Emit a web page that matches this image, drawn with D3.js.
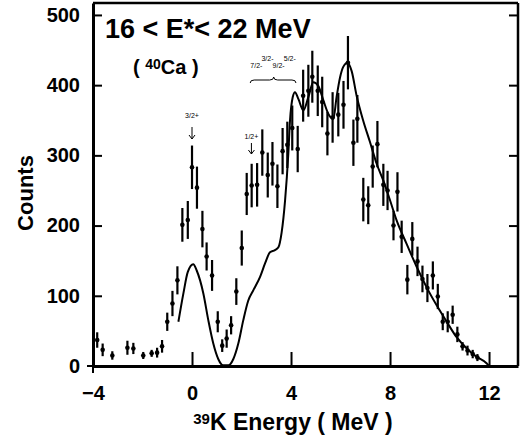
<!DOCTYPE html>
<html>
<head>
<meta charset="utf-8">
<script src="https://cdn.jsdelivr.net/npm/d3@7"></script>
<style>
  body { margin: 0; background: #fff; }
  svg { display: block; }
  text { font-family: "Liberation Sans", Arial, Helvetica, sans-serif; fill: #000; }
</style>
</head>
<body>
<div id="chart"></div>
<script>
var energy = [-3.83, -3.61, -3.22, -2.61, -2.37, -1.97, -1.63, -1.41, -1.21, -1.0,
  -0.79, -0.59, -0.39, -0.17, 0.0, 0.2, 0.42, 0.59, 0.81, 1.04,
  1.22, 1.40, 1.58, 1.79, 2.01, 2.21, 2.41, 2.63, 2.84, 3.06,
  3.25, 3.45, 3.66, 3.85, 4.05, 4.27, 4.49, 4.70, 4.86, 5.08,
  5.26, 5.47, 5.68, 5.91, 6.12, 6.30, 6.52, 6.68, 6.92, 7.12,
  7.30, 7.49, 7.73, 7.90, 8.14, 8.30, 8.47, 8.70, 8.90, 9.11,
  9.31, 9.51, 9.73, 9.93, 10.13, 10.33, 10.53, 10.72, 10.93, 11.13,
  11.34, 11.53];
var counts = [37, 23, 15, 26, 25, 15, 18, 19, 28, 63,
  89, 122, 201, 208, 283, 254, 195, 156, 129, 63,
  29, 39, 58, 106, 168, 245, 257, 258, 304, 272,
  288, 256, 306, 315, 339, 309, 385, 392, 412, 392,
  376, 331, 354, 358, 372, 432, 318, 352, 237, 229,
  284, 316, 258, 250, 200, 248, 184, 123, 181, 149,
  124, 111, 129, 99, 63, 63, 73, 45, 28, 22,
  17, 12];
var errors = [11, 9, 6, 10, 8, 5, 5, 7, 9, 13,
  18, 20, 24, 27, 31, 30, 26, 20, 22, 15,
  9, 13, 13, 19, 25, 30, 31, 31, 33, 32,
  31, 31, 33, 33, 32, 33, 37, 37, 37, 36,
  36, 31, 36, 31, 34, 38, 33, 34, 31, 27,
  30, 33, 30, 28, 21, 28, 23, 21, 24, 21,
  19, 20, 20, 18, 12, 15, 13, 11, 6, 7,
  6, 5];

// fitted curve
var fitE = [-0.55, -0.35, -0.17, 0.05, 0.19, 0.46, 0.66, 0.86, 1.06, 1.26,
  1.47, 1.67, 1.87, 2.07, 2.27, 2.48, 2.75, 2.95, 3.15, 3.35,
  3.49, 3.62, 3.76, 3.89, 3.96, 4.07, 4.16, 4.30, 4.50, 4.70,
  4.90, 5.10, 5.31, 5.51, 5.71, 5.84, 5.98, 6.11, 6.28, 6.45,
  6.65, 6.92, 7.19, 7.46, 7.73, 8.0, 8.27, 8.67, 9.08, 9.48,
  9.89, 10.29, 10.69, 11.1, 11.5, 11.9, 12.0];
var fitC = [63, 103, 134, 145, 136, 103, 65, 32, 10, 1,
  1, 10, 32, 65, 93, 108, 127, 146, 162, 165,
  169, 190, 236, 302, 350, 383, 390, 380, 364, 383,
  404, 399, 378, 359, 352, 383, 411, 426, 432, 420,
  385, 349, 319, 288, 264, 236, 207, 174, 141, 112,
  86, 63, 41, 25, 13, 4, 0];

var xTicks = [-4, 0, 4, 8, 12];
var yTicks = [0, 100, 200, 300, 400, 500];

// level labels
var levelLabels = ["7/2-", "3/2-", "9/2-", "5/2-"];
var levelE = [2.6, 3.05, 3.5, 3.95];

var W = 521, H = 443;
var margin = { top: 3, right: 3, bottom: 77, left: 93 };

var x = d3.scaleLinear().domain([-4, 13.17]).range([margin.left, W - margin.right]);
var y = d3.scaleLinear().domain([0, 517]).range([H - margin.bottom, margin.top]);

var svg = d3.select("#chart").append("svg")
  .attr("width", W)
  .attr("height", H);

// frame top/right
svg.append("line")
  .attr("x1", x(-4)).attr("x2", x(13.17))
  .attr("y1", y(517)).attr("y2", y(517))
  .attr("stroke", "#000").attr("stroke-width", 2.5);
svg.append("line")
  .attr("x1", x(13.17)).attr("x2", x(13.17))
  .attr("y1", y(517)).attr("y2", y(0))
  .attr("stroke", "#000").attr("stroke-width", 2.5);

// left axis
var gy = svg.append("g")
  .attr("transform", "translate(" + x(-4) + ",0)")
  .call(d3.axisLeft(y).tickValues(yTicks).tickSize(-9).tickSizeOuter(0).tickPadding(13));
// right axis ticks
var gyr = svg.append("g")
  .attr("transform", "translate(" + x(13.17) + ",0)")
  .call(d3.axisRight(y).tickValues(yTicks.slice(1)).tickSize(-9).tickSizeOuter(0).tickFormat(""));
gyr.select(".domain").remove();
// bottom axis
var gx = svg.append("g")
  .attr("transform", "translate(0," + y(0) + ")")
  .call(d3.axisBottom(x).tickValues(xTicks).tickSize(-14).tickSizeOuter(0).tickPadding(20));

[gy, gx, gyr].forEach(function (g) {
  g.selectAll(".domain").attr("stroke-width", 3);
  g.selectAll(".tick line").attr("stroke-width", 2);
  g.selectAll("text")
    .style("font-size", "20px")
    .style("font-weight", "bold");
});

// small outward stubs where axes cross
svg.append("line")
  .attr("x1", x(-4) - 6).attr("x2", x(-4))
  .attr("y1", y(0)).attr("y2", y(0))
  .attr("stroke", "#000").attr("stroke-width", 2);
svg.append("line")
  .attr("x1", x(-4)).attr("x2", x(-4))
  .attr("y1", y(0)).attr("y2", y(0) + 7)
  .attr("stroke", "#000").attr("stroke-width", 2);

// fit curve
var line = d3.line()
  .x(function (d, i) { return x(fitE[i]); })
  .y(function (d) { return y(d); })
  .curve(d3.curveMonotoneX);
svg.append("path")
  .datum(fitC)
  .attr("d", line)
  .attr("fill", "none")
  .attr("stroke", "#000")
  .attr("stroke-width", 2);

// error bars + points
var pts = svg.append("g");
pts.selectAll("line")
  .data(counts)
  .enter().append("line")
  .attr("x1", function (d, i) { return x(energy[i]); })
  .attr("x2", function (d, i) { return x(energy[i]); })
  .attr("y1", function (d, i) { return y(d - errors[i]); })
  .attr("y2", function (d, i) { return y(d + errors[i]); })
  .attr("stroke", "#000")
  .attr("stroke-width", 2.2);
pts.selectAll("circle")
  .data(counts)
  .enter().append("circle")
  .attr("cx", function (d, i) { return x(energy[i]); })
  .attr("cy", function (d) { return y(d); })
  .attr("r", 2.3)
  .attr("fill", "#000");

// titles
svg.append("text")
  .attr("x", 105).attr("y", 38)
  .style("font-size", "27px").style("font-weight", "bold")
  .text("16 < E*< 22 MeV");

var ca = svg.append("text")
  .attr("x", 133).attr("y", 74)
  .style("font-size", "20px").style("font-weight", "bold");
ca.append("tspan").text("( ");
ca.append("tspan").attr("dy", -5).style("font-size", "14px").text("40");
ca.append("tspan").attr("dy", 5).text("Ca )");

svg.append("text")
  .attr("transform", "translate(33,193) rotate(-90)")
  .attr("text-anchor", "middle")
  .style("font-size", "22px").style("font-weight", "bold")
  .text("Counts");

var xt = svg.append("text")
  .attr("x", 293).attr("y", 430)
  .attr("text-anchor", "middle")
  .style("font-size", "23px").style("font-weight", "bold");
xt.append("tspan").attr("dy", -6).style("font-size", "15px").text("39");
xt.append("tspan").attr("dy", 6).text("K Energy ( MeV )");

// level annotations
function arrow(e, y0, y1) {
  var xx = x(e);
  svg.append("path")
    .attr("d", "M" + xx + "," + y0 + "V" + y1 + "M" + (xx - 3) + "," + (y1 - 4) + "L" + xx + "," + y1 + "L" + (xx + 3) + "," + (y1 - 4))
    .attr("fill", "none").attr("stroke", "#000").attr("stroke-width", 1);
}
svg.append("text").attr("x", x(0.0)).attr("y", 118)
  .attr("text-anchor", "middle").style("font-size", "7px").text("3/2+");
arrow(0.0, 127, 139);
svg.append("text").attr("x", x(2.4)).attr("y", 139)
  .attr("text-anchor", "middle").style("font-size", "7px").text("1/2+");
arrow(2.4, 143, 154);

svg.selectAll(".lvl")
  .data(levelLabels)
  .enter().append("text")
  .attr("class", "lvl")
  .attr("x", function (d, i) { return x(levelE[i]); })
  .attr("y", function (d, i) { return i % 2 === 0 ? 68 : 61; })
  .attr("text-anchor", "middle")
  .style("font-size", "7px")
  .text(function (d) { return d; });

// brace
var bx0 = x(2.35), bx1 = x(4.2), bm = x(3.3);
svg.append("path")
  .attr("d", "M" + bx0 + ",83 Q" + bx0 + ",80 " + (bx0 + 4) + ",80 L" + (bm - 4) + ",80 Q" + bm + ",80 " + bm + ",77 Q" + bm + ",80 " + (bm + 4) + ",80 L" + (bx1 - 4) + ",80 Q" + bx1 + ",80 " + bx1 + ",83")
  .attr("fill", "none").attr("stroke", "#000").attr("stroke-width", 1);
</script>
</body>
</html>
